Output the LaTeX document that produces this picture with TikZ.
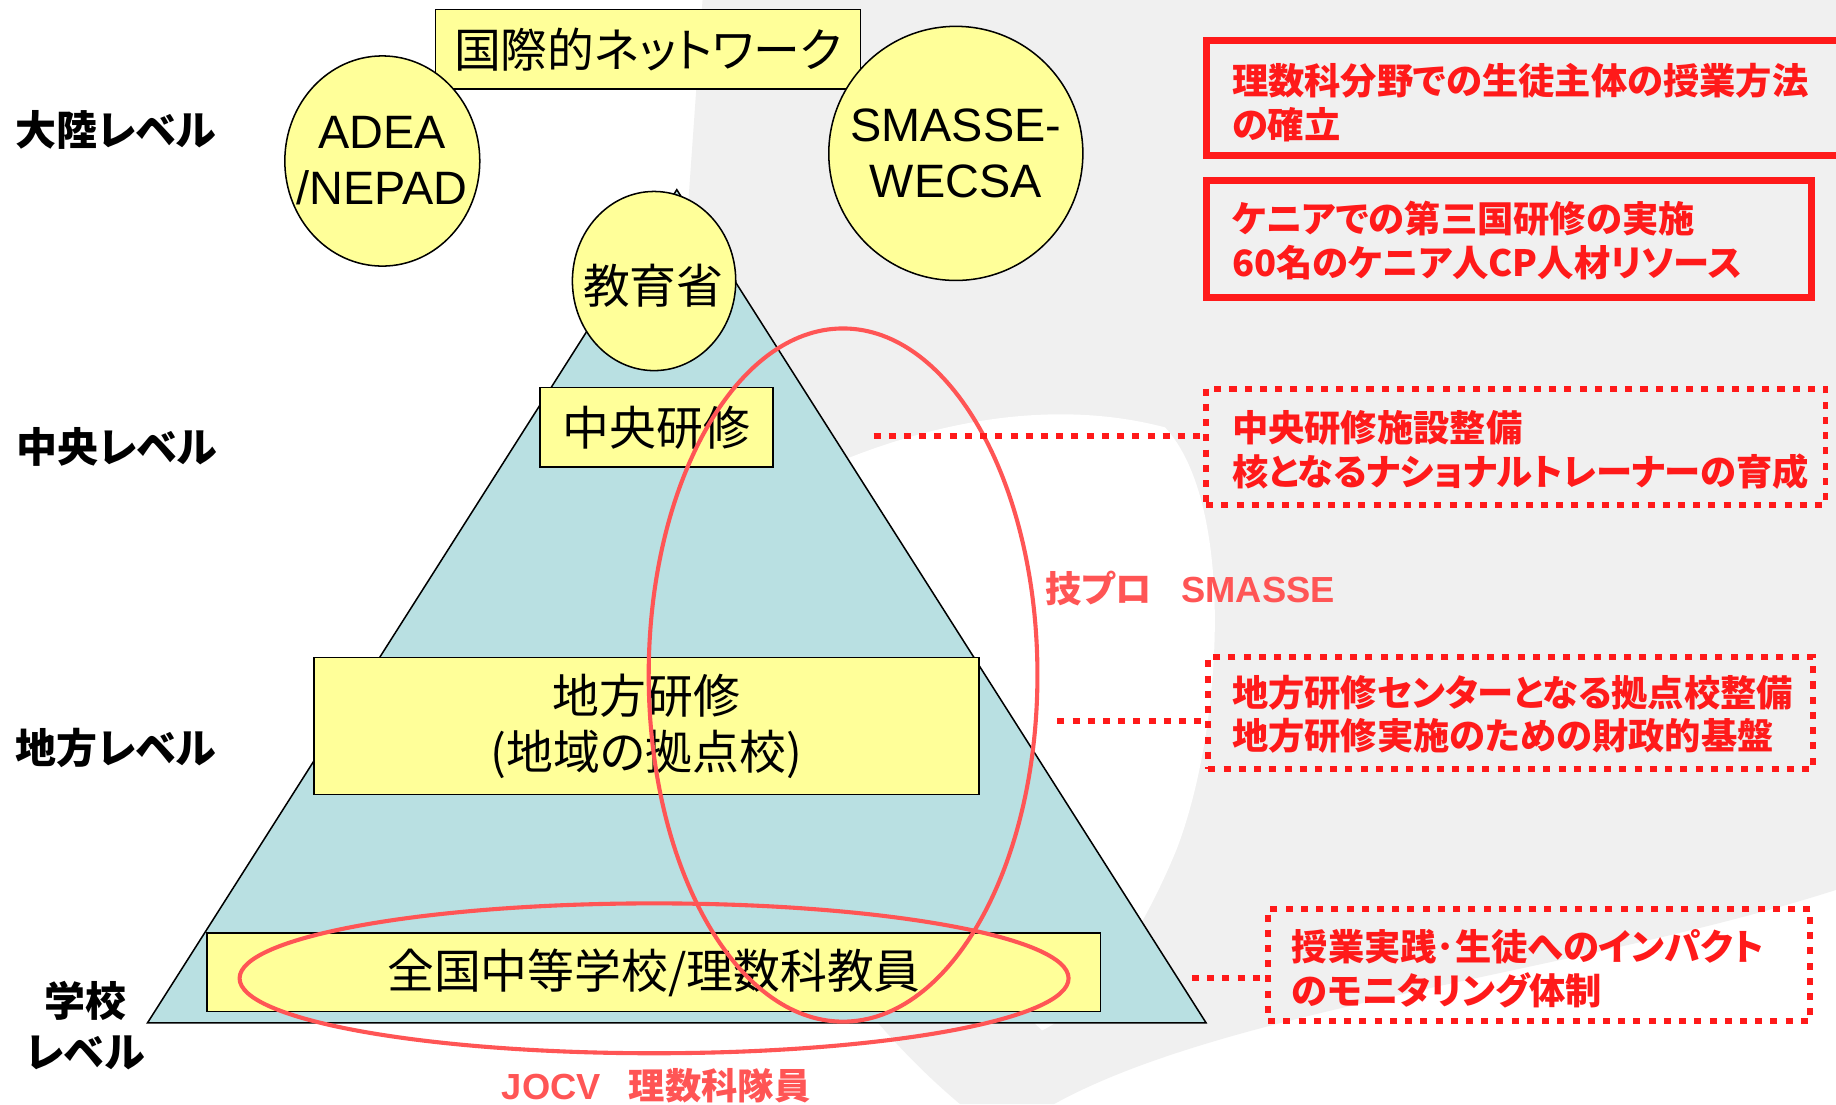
\documentclass[tikz,border=0pt]{standalone}
\usepackage{fontspec}
\setmainfont{Liberation Sans}
\newfontfamily\jp[CharacterWidth=AlternateProportional]{Noto Sans CJK JP}
\usetikzlibrary{shapes.geometric}
\definecolor{tri}{RGB}{185,224,226}
\definecolor{yel}{RGB}{255,255,153}
\definecolor{rd}{RGB}{255,26,26}
\definecolor{rl}{RGB}{255,85,85}
\definecolor{bgc}{RGB}{240,240,240}
\tikzset{
  ybox/.style={draw=black, line width=1.3pt, fill=yel, inner sep=0pt, align=center,
    font=\jp\fontsize{40}{48}\selectfont},
  yell/.style={ellipse, draw=black, line width=1.3pt, fill=yel, inner sep=0pt},
  etext/.style={align=center, inner sep=0pt, font=\fontsize{40}{48}\selectfont},
  lvl/.style={align=center, inner sep=0pt, font=\jp\bfseries\fontsize{35}{44}\selectfont},
  rbox/.style={draw=rd, line width=6pt, inner sep=0pt},
  dbox/.style={draw=rd, line width=5pt, inner sep=0pt, dash pattern=on 6pt off 7pt},
  dline/.style={draw=rd, line width=5pt, dash pattern=on 6pt off 7pt},
  rtext/.style={anchor=west, align=left, inner sep=0pt, text=rd,
    font=\jp\bfseries\fontsize{31}{37.5}\selectfont},
  rell/.style={ellipse, draw=rl, line width=3.5pt, inner sep=0pt},
  rlab/.style={anchor=west, inner sep=0pt, text=rl, font=\bfseries\fontsize{31}{37}\selectfont},
}
\begin{document}
\begin{tikzpicture}[x=1pt,y=-1pt]
\useasboundingbox (0,0) rectangle (1568,943);
% background swirl
\fill[white] (0,0) rectangle (1568,943);
\fill[bgc] (600,0) -- (1568,0) -- (1568,760) .. controls (1350,830) and (1050,860) .. (900,943)
  -- (820,943) .. controls (650,800) and (560,560) .. (576,341) -- cycle;
\fill[white] (715,395) .. controls (800,360) and (900,340) .. (995,365)
  .. controls (1055,430) and (1045,620) .. (1005,725)
  .. controls (970,810) and (930,860) .. (890,880) -- (700,700) -- cycle;
% pyramid
\coordinate (apex) at (578,162);
\coordinate (bl) at (126,873.5);
\coordinate (br) at (1030,873.5);
\filldraw[fill=tri, draw=black, line width=1.3pt] (apex) -- (br) -- (bl) -- cycle;
% level labels
\node[lvl] (lv1) at (99,111) {大陸レベル};
\node[lvl] (lv2) at (100,382) {中央レベル};
\node[lvl] (lv3) at (99,639) {地方レベル};
\node[lvl] (lv4) at (73,876) {学校\\レベル};
% yellow nodes
\node[ybox, minimum width=363pt, minimum height=68pt] (net) at (553.5,42) {国際的ネットワーク};
\node[yell, minimum width=166.5pt, minimum height=179.5pt] (adea) at (326.5,137.5) {};
\node[etext] (adeat) at (adea.center) {ADEA\\/NEPAD};
\node[yell, minimum width=217pt, minimum height=217pt] (smw) at (816.3,131) {};
\node[etext] (smwt) at (smw.center) {SMASSE-\\WECSA};
\node[yell, minimum width=139.5pt, minimum height=153pt] (moe) at (558.6,240) {};
\node[etext, font=\jp\fontsize{40}{48}\selectfont] (moet) at (558,244) {教育省};
\node[ybox, minimum width=199pt, minimum height=68pt] (cen) at (560.5,365) {中央研修};
\node[ybox, minimum width=568pt, minimum height=117pt] (loc) at (552,620) {地方研修\\(地域の拠点校)};
\node[ybox, minimum width=763pt, minimum height=67pt] (sch) at (558.5,830.5) {全国中等学校/理数科教員};
% red ellipses
\node[rell, minimum width=332pt, minimum height=592pt] (smasse) at (720,576.5) {};
\node[rell, minimum width=708pt, minimum height=128pt] (jocv) at (558.6,835.5) {};
\node[rlab] (lsm) at (892.6,503) {{\jp 技プロ}\hspace{25pt}SMASSE};
\node[rlab] (ljo) at (428.4,927) {JOCV\hspace{24pt}{\jp 理数科隊員}};
% red boxes
\node[rbox, minimum width=545pt, minimum height=98pt] (b1) at (1302.5,84) {};
\node[rtext] (t1) at (1052,87.5) {理数科分野での生徒主体の授業方法\\の確立};
\node[rbox, minimum width=517pt, minimum height=100pt] (b2) at (1288.5,204) {};
\node[rtext] (t2) at (1052,205.5) {ケニアでの第三国研修の実施\\60名のケニア人CP人材リソース};
\node[dbox, minimum width=529pt, minimum height=99pt] (b3) at (1294.5,381.5) {};
\node[rtext] (t3) at (1052,384) {中央研修施設整備\\核となるナショナルトレーナーの育成};
\node[dbox, minimum width=516pt, minimum height=96pt] (b4) at (1290,609) {};
\node[rtext] (t4) at (1052,610) {地方研修センターとなる拠点校整備\\地方研修実施のための財政的基盤};
\node[dbox, minimum width=463pt, minimum height=96pt] (b5) at (1314.5,824) {};
\node[rtext] (t5) at (1103,827) {授業実践･生徒へのインパクト\\のモニタリング体制};
% dotted connectors
\coordinate (c3) at (746,372);
\coordinate (c4) at (903,616);
\coordinate (c5) at (1018,835);
\draw[dline] (c3) -- (c3 -| b3.west);
\draw[dline] (c4) -- (c4 -| b4.west);
\draw[dline] (c5) -- (c5 -| b5.west);
\end{tikzpicture}
\end{document}
